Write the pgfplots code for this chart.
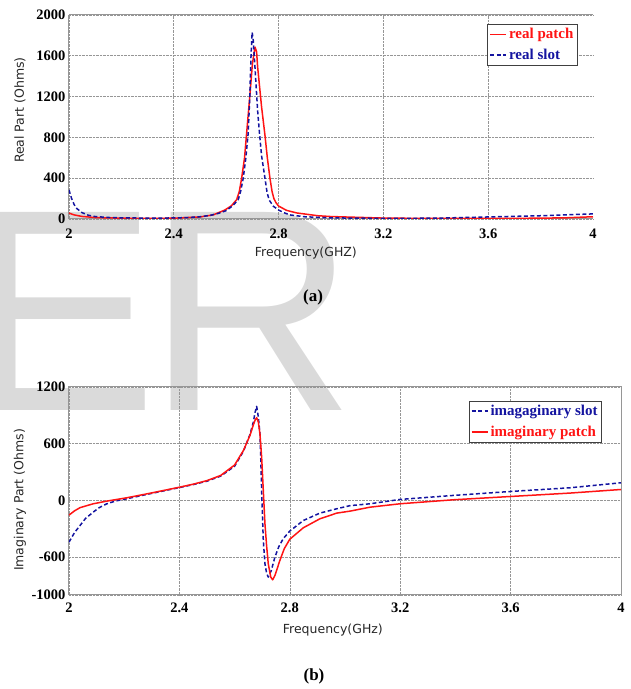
\documentclass[border=0pt]{standalone}
\usepackage{fontspec}
\setmainfont{Liberation Serif}
\newfontfamily\sansfont{DejaVu Sans}
\newfontfamily\markfont{Liberation Sans}
\usepackage{pgfplots}
\pgfplotsset{compat=1.18}
\definecolor{patchred}{RGB}{255,20,20}
\definecolor{slotblue}{RGB}{20,20,160}
\definecolor{axisgray}{RGB}{150,150,150}
\definecolor{gridgray}{RGB}{150,150,150}
\definecolor{markgray}{RGB}{218,218,218}

\pgfplotsset{
  zplot/.style={
    scale only axis,
    xmin=2, xmax=4,
    major tick length=0pt,
    grid=major,
    grid style={densely dotted, gridgray, line width=0.6pt},
    tick label style={font=\bfseries\fontsize{14.5}{16}\selectfont},
    /pgf/number format/assume math mode=true,
    label style={font=\sansfont\fontsize{12.5}{14}\selectfont, text=black!85},
    axis line style={axisgray, line width=1pt},
    legend cell align=left,
    legend style={font=\bfseries\fontsize{15}{17}\selectfont, draw=black!75,
      line width=0.8pt, fill=white, inner xsep=2pt, inner ysep=2pt,
      row sep=5pt},
    legend image code/.code={\draw[#1] (0pt,0pt) -- (16pt,0pt);},
    legend image post style={line width=1.6pt},
    every axis plot/.append style={line width=1.5pt, line join=round},
  },
  slot/.style={draw=slotblue, color=slotblue, dash pattern=on 4pt off 2.5pt},
  patch/.style={draw=patchred, color=patchred},
}

\begin{document}
\begin{tikzpicture}
% watermark letters behind the charts
\node[anchor=base west, inner sep=0, text=markgray,
  font=\markfont\fontsize{288}{288}\selectfont] at (-35pt,278pt) {E};
\node[anchor=base west, inner sep=0, text=markgray,
  font=\markfont\fontsize{288}{288}\selectfont] at (147pt,278pt) {R};

% (a) real part
\begin{axis}[zplot,
  at={(69pt,470pt)}, anchor=south west,
  width=524pt, height=204pt,
  ymin=0, ymax=2000,
  axis x line*=bottom, axis y line*=left,
  xtick={2,2.4,2.8,3.2,3.6}, xticklabels={2,2.4,2.8,3.2,3.6},
  extra x ticks={4}, extra x tick labels={4},
  extra x tick style={grid=none},
  ytick={0,400,800,1200,1600,2000},
  yticklabels={0,400,800,1200,1600,2000},
  xticklabel style={yshift=-6pt},
  xlabel={Frequency(GHZ)}, ylabel={Real Part (Ohms)},
  xlabel style={at={(axis description cs:0.452,-0.167)}, anchor=center},
  ylabel style={at={(axis description cs:-0.0935,0.534)}, anchor=center},
  legend style={at={(0.971,0.956)}, anchor=north east},
]
\draw[axisgray, line width=1pt] (rel axis cs:0,1) -- (rel axis cs:1,1);
\addplot[patch] table {
2.00 58
2.02 40
2.05 25
2.10 14
2.20 8
2.30 6
2.40 8
2.50 20
2.55 40
2.595 88
2.62 130
2.64 190
2.65 270
2.659 400
2.67 600
2.678 843
2.69 1200
2.70 1520
2.71 1685
2.716 1640
2.72 1490
2.735 1100
2.748 820
2.757 600
2.767 400
2.775 270
2.782 200
2.79 160
2.80 127
2.83 85
2.87 59
2.95 32
3.00 24
3.20 9
3.40 5
3.60 5
3.80 8
3.90 12
4.00 22
};
\addlegendentry{\textcolor{patchred}{real patch}}
\addplot[slot] table {
2.00 285
2.01 200
2.02 140
2.03 102
2.05 62
2.075 36
2.10 24
2.15 15
2.20 11
2.30 9
2.40 10
2.45 14
2.50 22
2.54 36
2.57 55
2.60 82
2.625 130
2.646 190
2.655 270
2.665 400
2.675 600
2.684 843
2.69 1200
2.695 1620
2.699 1830
2.703 1760
2.71 1480
2.72 1060
2.727 843
2.735 620
2.748 400
2.756 260
2.764 186
2.78 125
2.80 88
2.82 62
2.843 40
2.90 22
3.00 11
3.20 6
3.40 8
3.60 20
3.80 32
4.00 50
};
\addlegendentry{\textcolor{slotblue}{real slot}}
\end{axis}

% (b) imaginary part
\begin{axis}[zplot,
  at={(69pt,94pt)}, anchor=south west,
  width=552pt, height=208pt,
  ymin=-1000, ymax=1200,
  xtick={2,2.4,2.8,3.2,3.6,4}, xticklabels={2,2.4,2.8,3.2,3.6,4},
  ytick={-1000,-600,0,600,1200},
  yticklabels={-1000,-600,0,600,1200},
  xticklabel style={yshift=-4pt},
  xlabel={Frequency(GHz)}, ylabel={Imaginary Part (Ohms)},
  xlabel style={at={(axis description cs:0.478,-0.168)}, anchor=center},
  ylabel style={at={(axis description cs:-0.0888,0.457)}, anchor=center},
  legend style={at={(0.9656,0.933)}, anchor=north east},
]
\addplot[slot] table {
2.00 -441
2.02 -340
2.04 -265
2.06 -190
2.088 -123
2.11 -75
2.137 -35
2.17 -5
2.209 18
2.30 75
2.40 136
2.45 168
2.50 204
2.55 258
2.60 362
2.632 520
2.656 700
2.668 830
2.674 930
2.68 995
2.686 882
2.692 705
2.695 420
2.698 106
2.701 -170
2.704 -423
2.71 -670
2.716 -770
2.722 -811
2.733 -740
2.746 -600
2.76 -490
2.776 -405
2.80 -324
2.849 -212
2.909 -134
2.97 -88
3.018 -55
3.091 -35
3.20 11
3.392 53
3.60 95
3.815 134
4.00 187
};
\addlegendentry{\textcolor{slotblue}{imagaginary slot}}
\addplot[patch] table {
2.00 -155
2.02 -110
2.04 -76
2.088 -35
2.137 -7
2.209 28
2.30 80
2.40 140
2.45 172
2.50 210
2.55 265
2.60 375
2.632 529
2.656 690
2.668 800
2.675 855
2.68 875
2.686 830
2.692 700
2.698 458
2.704 106
2.71 -247
2.716 -480
2.722 -670
2.731 -811
2.738 -839
2.746 -794
2.764 -635
2.78 -510
2.80 -410
2.849 -289
2.909 -194
2.97 -134
3.018 -113
3.091 -71
3.20 -35
3.392 7
3.60 42
3.815 78
4.00 116
};
\addlegendentry{\textcolor{patchred}{imaginary patch}}
\end{axis}

\node[font=\bfseries\fontsize{17}{20}\selectfont] at (313pt,392pt) {(a)};
\node[font=\bfseries\fontsize{17}{20}\selectfont] at (314pt,13pt) {(b)};

\pgfresetboundingbox
\path[use as bounding box] (0,0) rectangle (631pt,689pt);
\end{tikzpicture}
\end{document}
